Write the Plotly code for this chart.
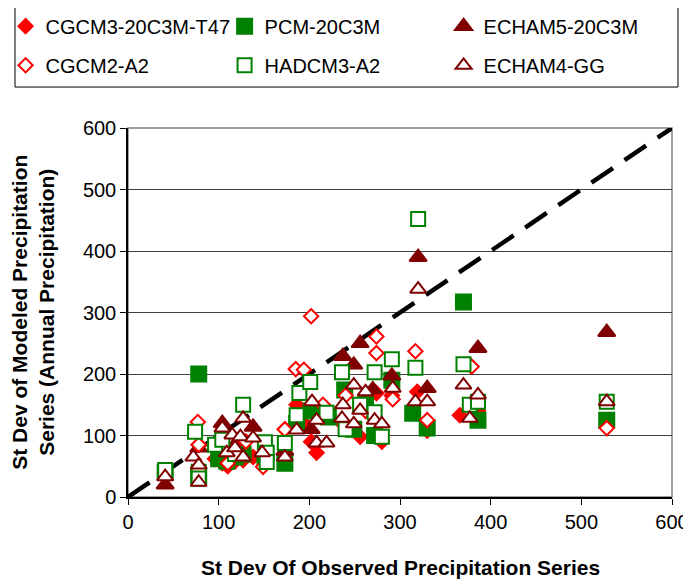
import plotly.graph_objects as go

# Наблюдаемое / модельное стандартное отклонение осадков по станциям
CGCM3_X = [41, 78, 96, 104, 110, 118, 127, 138, 151, 173, 186, 194, 202, 208, 219, 236, 249, 256, 262, 274, 280, 291, 319, 330, 366, 386, 528]
CGCM3_Y = [38, 85, 62, 55, 50, 58, 60, 65, 58, 110, 150, 120, 90, 72, 130, 120, 110, 98, 160, 169, 90, 165, 171, 108, 133, 140, 120]

PCM_X = [41, 78, 78, 100, 109, 118, 127, 151, 173, 186, 202, 221, 239, 249, 262, 272, 291, 314, 330, 370, 386, 528]
PCM_Y = [40, 200, 35, 62, 58, 65, 70, 60, 55, 120, 140, 130, 174, 110, 150, 100, 190, 136, 112, 317, 125, 125]

ECHAM5_X = [41, 78, 104, 118, 138, 173, 202, 237, 249, 256, 270, 291, 320, 330, 386, 528]
ECHAM5_Y = [20, 80, 120, 85, 114, 75, 110, 229, 215, 250, 175, 197, 390, 177, 242, 268]

CGCM2_X = [41, 77, 78, 110, 130, 149, 173, 185, 194, 202, 215, 240, 262, 274, 274, 292, 317, 330, 379, 528]
CGCM2_Y = [40, 122, 85, 55, 90, 49, 110, 208, 207, 294, 150, 165, 140, 261, 234, 159, 237, 125, 212, 112]

HADCM3_X = [41, 74, 78, 78, 96, 104, 118, 127, 151, 153, 153, 173, 186, 189, 201, 219, 236, 240, 256, 272, 272, 280, 291, 317, 320, 370, 377, 386, 528]
HADCM3_Y = [44, 106, 41, 30, 85, 93, 70, 150, 89, 72, 57, 88, 133, 169, 187, 137, 203, 110, 150, 203, 138, 98, 224, 210, 452, 216, 150, 155, 155]

ECHAM4_X = [41, 72, 78, 78, 104, 109, 115, 118, 124, 127, 127, 138, 148, 173, 186, 203, 208, 208, 219, 236, 237, 249, 249, 256, 262, 272, 280, 292, 317, 320, 330, 370, 377, 386, 528]
ECHAM4_Y = [33, 65, 52, 24, 112, 72, 101, 80, 98, 128, 65, 96, 72, 65, 109, 155, 125, 88, 88, 128, 150, 119, 182, 141, 171, 125, 119, 177, 155, 338, 155, 182, 128, 166, 155]

# линия 1:1
LINE_X = [0, 600]
LINE_Y = [0, 600]

RED = "#FF0000"
GREEN = "#008000"
DARK_RED = "#800000"
FONT = "Arial, Liberation Sans, sans-serif"

fig = go.Figure()

fig.add_trace(go.Scatter(
    x=LINE_X, y=LINE_Y, mode="lines", showlegend=False,
    line=dict(color="black", width=4.5, dash="26px,14px"),
    hoverinfo="skip"
))

series = [
    # name, x, y, symbol, fill, outline, size, legend
    ("CGCM3-20C3M-T47", CGCM3_X, CGCM3_Y, "diamond", RED, RED, 11, "legend"),
    ("PCM-20C3M", PCM_X, PCM_Y, "square", GREEN, GREEN, 15, "legend"),
    ("ECHAM5-20C3M", ECHAM5_X, ECHAM5_Y, "triangle-up", DARK_RED, DARK_RED, 15, "legend"),
    ("CGCM2-A2", CGCM2_X, CGCM2_Y, "diamond", "white", RED, 11, "legend2"),
    ("HADCM3-A2", HADCM3_X, HADCM3_Y, "square", "white", GREEN, 14, "legend2"),
    ("ECHAM4-GG", ECHAM4_X, ECHAM4_Y, "triangle-up", "white", DARK_RED, 14, "legend2"),
]

for name, xs, ys, sym, fill, edge, size, leg in series:
    fig.add_trace(go.Scatter(
        x=xs, y=ys, mode="markers", name=name, legend=leg,
        marker=dict(symbol=sym, size=size, color=fill, line=dict(color=edge, width=2))
    ))

legend_common = dict(
    orientation="h", xanchor="left", yanchor="middle", x=-0.225,
    bgcolor="rgba(0,0,0,0)", borderwidth=0,
    font=dict(family=FONT, size=20, color="black"),
    entrywidth=174, itemwidth=30,
)

# страница имеет отступ 8px слева/сверху
fig.update_layout(
    width=683, height=576,
    margin=dict(l=120, r=19, t=120, b=87, autoexpand=False),
    paper_bgcolor="white", plot_bgcolor="white",
    font=dict(family=FONT, size=20, color="black"),
    legend=dict(y=1.276, **legend_common),
    legend2=dict(y=1.170, **legend_common),
    shapes=[
        # рамка легенды
        dict(type="rect", xref="paper", yref="paper",
             x0=-0.2077, x1=1.011, y0=1.111, y1=1.333,
             line=dict(color="black", width=1)),
        # рамка области построения
        dict(type="rect", xref="paper", yref="paper", x0=0, x1=1, y0=0, y1=1,
             line=dict(color="#808080", width=1.5), layer="below"),
    ],
    annotations=[
        dict(text="<b>St Dev Of Observed Precipitation Series</b>",
             xref="paper", yref="paper", x=0.5, y=-0.192, showarrow=False,
             xanchor="center", yanchor="middle", font=dict(family=FONT, size=21)),
        dict(text="<b>St Dev of Modeled Precipitation<br>Series (Annual Precipitation)</b>",
             xref="paper", yref="paper", x=-0.176, y=0.5, showarrow=False,
             textangle=-90, xanchor="center", yanchor="middle",
             font=dict(family=FONT, size=21)),
    ],
)

fig.update_xaxes(
    range=[0, 600], tickvals=[0, 100, 200, 300, 400, 500, 600],
    showgrid=False, zeroline=False, ticklabeloverflow="allow",
    showline=True, linecolor="black", linewidth=1.5,
    ticks="outside", ticklen=6, tickcolor="black",
    tickfont=dict(family=FONT, size=20),
)
fig.update_yaxes(
    range=[0, 600], tickvals=[0, 100, 200, 300, 400, 500, 600],
    showgrid=True, gridcolor="#404040", gridwidth=1, zeroline=False,
    showline=True, linecolor="black", linewidth=1.5,
    ticks="outside", ticklen=6, tickcolor="black",
    tickfont=dict(family=FONT, size=20),
)

fig.write_html("out.html")
